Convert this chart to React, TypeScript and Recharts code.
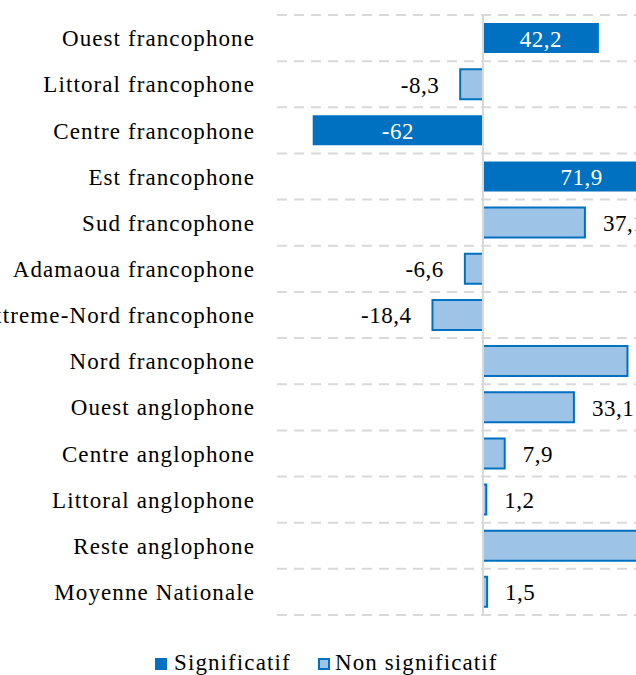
import {
  Bar,
  BarChart,
  CartesianGrid,
  Cell,
  LabelList,
  Legend,
  ReferenceLine,
  XAxis,
  YAxis,
} from "recharts";

const regions = [
  "Ouest francophone",
  "Littoral francophone",
  "Centre francophone",
  "Est francophone",
  "Sud francophone",
  "Adamaoua francophone",
  "Extreme-Nord francophone",
  "Nord francophone",
  "Ouest anglophone",
  "Centre anglophone",
  "Littoral anglophone",
  "Reste anglophone",
  "Moyenne Nationale",
];

const values = [42.2, -8.3, -62, 71.9, 37.1, -6.6, -18.4, 52.6, 33.1, 7.9, 1.2, 60.2, 1.5];

const significant = [true, false, true, true, false, false, false, false, false, false, false, false, false];

const xDomain = [-75, 75];

const data = regions.map((name, i) => ({ name, value: values[i], sig: significant[i] }));

const FONT = "'Liberation Serif', 'Times New Roman', serif";
const DARK = "#0070C0";
const LIGHT = "#9DC3E6";
const GRID = "#D9D9D9";

const fmt = (v: number) => String(v).replace(".", ",");

const renderLabel = (props: any) => {
  const { x, y, width, height, value, index } = props;
  const left = Math.min(x, x + width);
  const right = Math.max(x, x + width);
  const cy = y + height / 2 + 1;
  if (significant[index]) {
    return (
      <text
        x={(left + right) / 2}
        y={cy}
        fill="#fff"
        fontSize={23}
        fontFamily={FONT}
        letterSpacing={0.5}
        textAnchor="middle"
        dominantBaseline="central"
      >
        {fmt(value)}
      </text>
    );
  }
  const neg = value < 0;
  return (
    <text
      x={neg ? left - 21 : right + 18}
      y={cy}
      fill="#000"
      fontSize={23}
      fontFamily={FONT}
      letterSpacing={0.5}
      textAnchor={neg ? "end" : "start"}
      dominantBaseline="central"
    >
      {fmt(value)}
    </text>
  );
};

const renderLegend = () => (
  <div
    style={{
      position: "relative",
      height: 60,
      fontFamily: FONT,
      fontSize: 23,
      lineHeight: "26px",
      letterSpacing: 1.1,
    }}
  >
    <span style={{ position: "absolute", left: 215, top: 35, whiteSpace: "nowrap" }}>
      <svg width={12} height={12} style={{ marginRight: 7 }}>
        <rect x={0} y={0} width={12} height={12} fill={DARK} />
      </svg>
      Significatif
    </span>
    <span style={{ position: "absolute", left: 378, top: 35, whiteSpace: "nowrap" }}>
      <svg width={12} height={12} style={{ marginRight: 5 }}>
        <rect x={1} y={1} width={10} height={10} fill={LIGHT} stroke={DARK} strokeWidth={2} />
      </svg>
      Non significatif
    </span>
  </div>
);

export default function App() {
  return (
    <div style={{ position: "fixed", left: 0, top: 0, width: 636, height: 675, overflow: "hidden", background: "#fff" }}>
      <div style={{ position: "absolute", left: -60, top: 0 }}>
        <BarChart
          width={800}
          height={675}
          data={data}
          layout="vertical"
          margin={{ top: 15, right: 51, bottom: 0, left: 0 }}
        >
          <CartesianGrid
            vertical={false}
            stroke={GRID}
            strokeWidth={2}
            strokeDasharray="10 7"
            horizontalCoordinatesGenerator={({ offset }: any) =>
              regions.concat("").map((_, i) => offset.top + (i * offset.height) / regions.length)
            }
          />
          <XAxis type="number" domain={xDomain} hide />
          <YAxis
            type="category"
            dataKey="name"
            width={337}
            axisLine={false}
            tickLine={false}
            tickSize={0}
            tickMargin={22}
            interval={0}
            tick={{ fill: "#000", fontSize: 23, fontFamily: FONT, letterSpacing: 1.1 }}
          />
          <ReferenceLine x={0} stroke={GRID} strokeWidth={2} />
          <Bar dataKey="value" barSize={30} isAnimationActive={false}>
            {data.map((d, i) => (
              <Cell
                key={i}
                fill={d.sig ? DARK : LIGHT}
                stroke={d.sig ? "none" : DARK}
                strokeWidth={d.sig ? 0 : 2}
              />
            ))}
            <LabelList dataKey="value" content={renderLabel} />
          </Bar>
          <Legend verticalAlign="bottom" align="left" content={renderLegend} />
        </BarChart>
      </div>
    </div>
  );
}
